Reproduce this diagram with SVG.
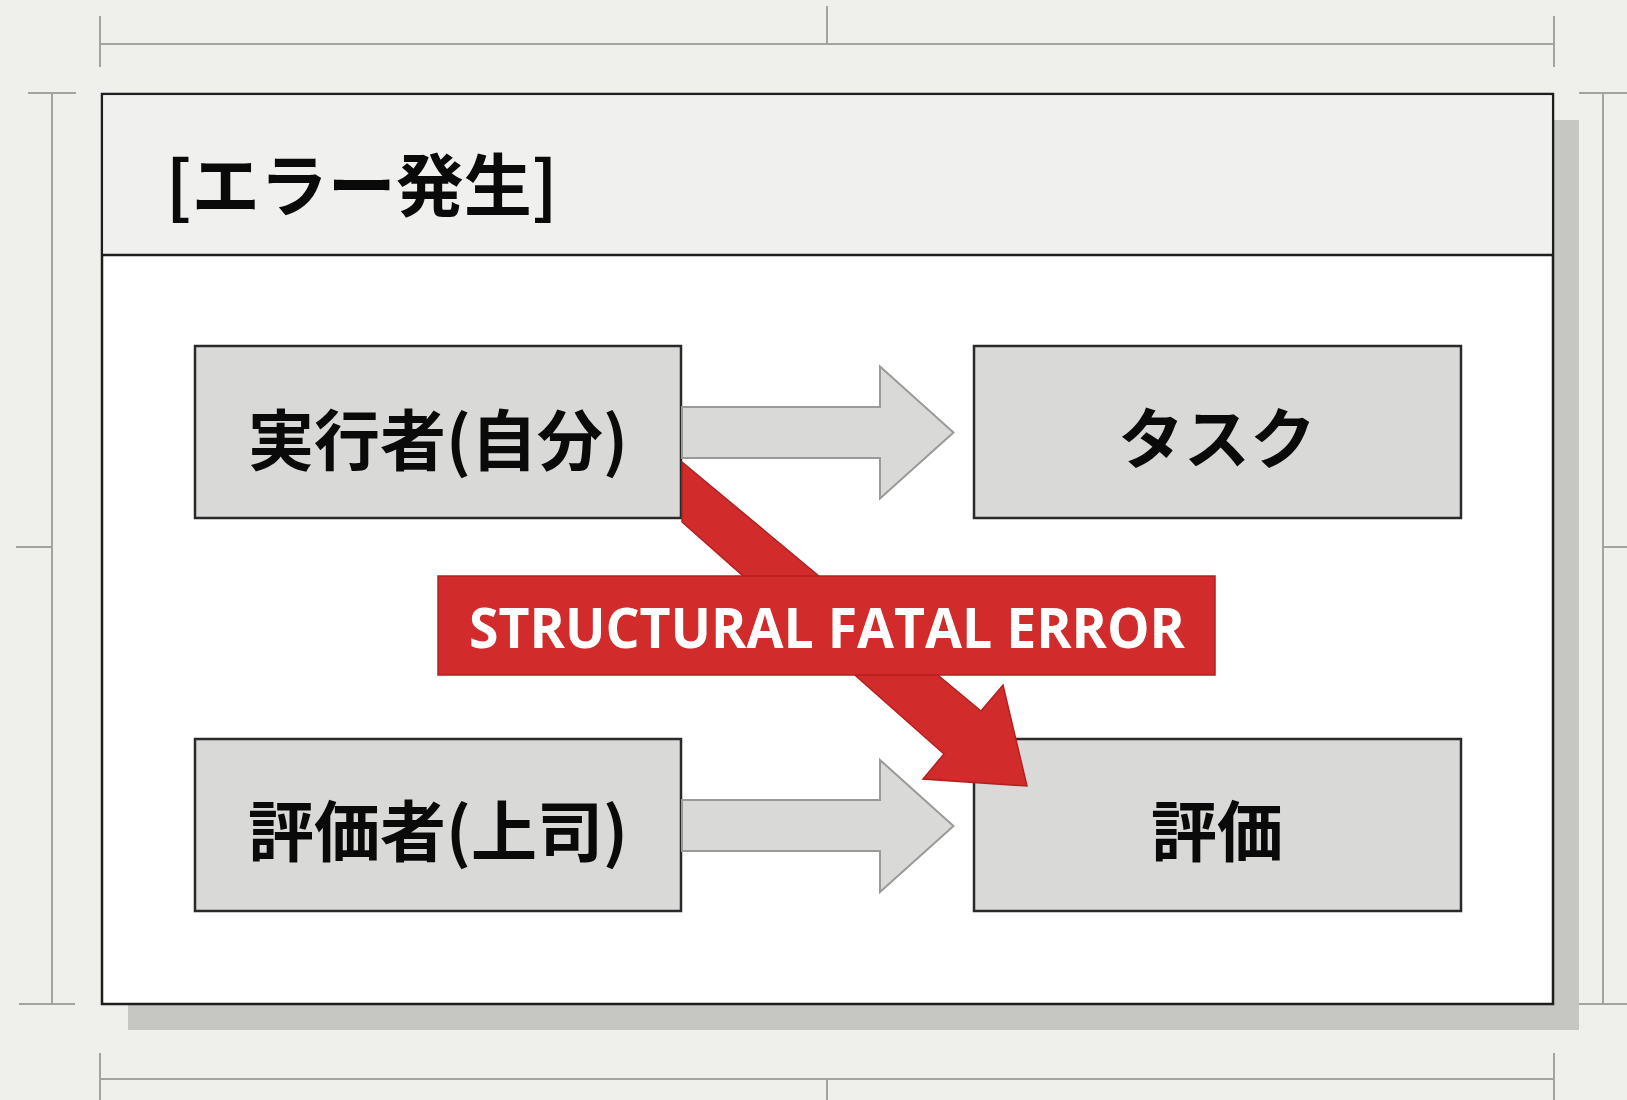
<svg xmlns="http://www.w3.org/2000/svg" width="1627" height="1100" viewBox="0 0 1627 1100">
  <style>
    .dim { stroke: #a3a3a1; stroke-width: 2; fill: none; }
    .node rect { fill: #d9d9d7; stroke: #2a2a2a; stroke-width: 2.5; }
    .label { font-family: "Noto Sans CJK JP", "Noto Sans", sans-serif; font-weight: 700; font-size: 66px; fill: #0a0a0a; text-anchor: middle; dominant-baseline: central; }
    .flow { fill: #d9d9d7; stroke: #9a9a98; stroke-width: 2; }
    .err { fill: #d12b2b; stroke: #b51f1f; stroke-width: 1.5; }
  </style>
  <rect x="0" y="0" width="1627" height="1100" fill="#efefec"/>

  <g id="dimensions">
    <line class="dim" x1="100" y1="44" x2="1554" y2="44"/>
    <line class="dim" x1="100" y1="16" x2="100" y2="67"/>
    <line class="dim" x1="827" y1="6" x2="827" y2="44"/>
    <line class="dim" x1="1554" y1="16" x2="1554" y2="67"/>
    <line class="dim" x1="52" y1="93" x2="52" y2="1004"/>
    <line class="dim" x1="28" y1="93" x2="76" y2="93"/>
    <line class="dim" x1="16" y1="547" x2="52" y2="547"/>
    <line class="dim" x1="19" y1="1004" x2="75" y2="1004"/>
    <line class="dim" x1="1603" y1="93" x2="1603" y2="1004" stroke-width="3"/>
    <line class="dim" x1="1579" y1="93" x2="1627" y2="93"/>
    <line class="dim" x1="1603" y1="547" x2="1627" y2="547"/>
    <line class="dim" x1="1579" y1="1004" x2="1627" y2="1004"/>
    <line class="dim" x1="100" y1="1079" x2="1554" y2="1079"/>
    <line class="dim" x1="100" y1="1053" x2="100" y2="1100"/>
    <line class="dim" x1="827" y1="1079" x2="827" y2="1100"/>
    <line class="dim" x1="1554" y1="1053" x2="1554" y2="1100"/>
  </g>

  <g id="panel">
    <rect x="128" y="120" width="1451" height="910" fill="#c6c6c3"/>
    <rect x="102" y="94" width="1451" height="910" fill="#ffffff" stroke="#1e1e1e" stroke-width="2.5"/>
    <rect x="103.25" y="95.25" width="1448.5" height="159.75" fill="#f0f0ee"/>
    <line x1="102" y1="255" x2="1553" y2="255" stroke="#1e1e1e" stroke-width="2.5"/>
    <text x="166" y="181" font-family="Noto Sans CJK JP, Noto Sans, sans-serif" font-weight="700" font-size="68" fill="#0a0a0a" dominant-baseline="central">[エラー発生]</text>
  </g>

  <g id="node-executor" class="node">
    <rect x="195" y="346" width="486" height="172"/>
    <text class="label" x="438" y="436">実行者(自分)</text>
  </g>
  <g id="node-task" class="node">
    <rect x="974" y="346" width="487" height="172"/>
    <text class="label" x="1217" y="434">タスク</text>
  </g>
  <g id="node-evaluator" class="node">
    <rect x="195" y="739" width="486" height="172"/>
    <text class="label" x="438" y="827">評価者(上司)</text>
  </g>
  <g id="node-evaluation" class="node">
    <rect x="974" y="739" width="487" height="172"/>
    <text class="label" x="1217" y="827">評価</text>
  </g>

  <g id="connectors">
    <polygon class="flow" points="682,407 880,407 880,366.5 953.5,432.5 880,498.5 880,458 682,458"/>
    <polygon class="flow" points="682,800 880,800 880,760 953.5,826 880,892 880,851 682,851"/>
    <polygon class="err" points="682,462 981,711 1003,685 1027,786 923,779 944,754 682,522"/>
    <rect class="err" x="438" y="576" width="777" height="99"/>
    <text x="827" y="648" font-family="Open Sans, Noto Sans, sans-serif" font-weight="700" font-size="56" fill="#ffffff" text-anchor="middle" textLength="716" lengthAdjust="spacingAndGlyphs">STRUCTURAL FATAL ERROR</text>
  </g>
</svg>
